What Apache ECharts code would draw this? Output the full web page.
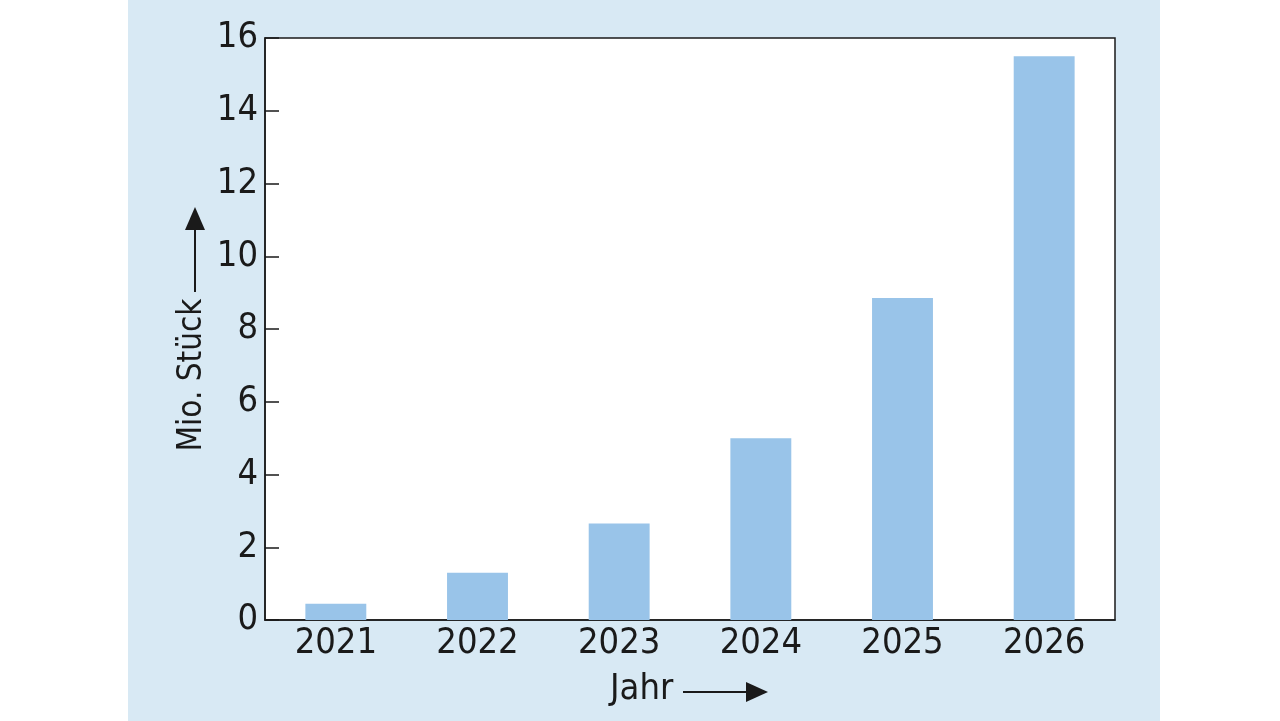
<!DOCTYPE html>
<html><head><meta charset="utf-8">
<script src="https://cdn.jsdelivr.net/npm/echarts@6/dist/echarts.min.js"></script>
<style>
html,body{margin:0;padding:0;background:#fff;width:1280px;height:721px;overflow:hidden;}
#c{position:absolute;left:128px;top:0;width:1032px;height:721px;}
</style></head><body>
<div id="c"></div>
<script>
const years = ['2021','2022','2023','2024','2025','2026'];
const values = [0.45, 1.3, 2.65, 5.0, 8.85, 15.5];
const yTitle = 'Mio. Stück';
const xTitle = 'Jahr';
const FONT = "'Liberation Sans Narrow', 'DejaVu Sans Condensed', sans-serif";
const ink = '#1a1a1a';
const chart = echarts.init(document.getElementById('c'));
chart.setOption({
  backgroundColor: '#d8e9f4',
  animation: false,
  textStyle: {fontFamily: FONT},
  grid: {left: 137, right: 45, top: 38, bottom: 101, show: true, backgroundColor: '#fff', borderColor: ink, borderWidth: 1.5},
  xAxis: {
    type: 'category', data: years,
    axisLine: {lineStyle: {color: ink, width: 1.5}},
    axisTick: {inside: true, length: 14, lineStyle: {color: ink, width: 1.5}},
    axisLabel: {color: ink, fontSize: 36, fontFamily: FONT, margin: 6}
  },
  yAxis: {
    type: 'value', min: 0, max: 16, interval: 2,
    splitLine: {show: false},
    axisLine: {show: true, lineStyle: {color: ink, width: 1.5}},
    axisTick: {show: true, inside: true, length: 14, lineStyle: {color: ink, width: 1.5}},
    axisLabel: {color: ink, fontSize: 36, fontFamily: FONT, margin: 7}
  },
  series: [{
    type: 'bar', data: values, barWidth: '43%',
    itemStyle: {color: '#99c4e9'}
  }],
  graphic: [
    {type: 'text', left: 482, top: 672, style: {text: xTitle, fontSize: 36, fontFamily: FONT, fill: ink}},
    {type: 'line', shape: {x1: 555, y1: 692, x2: 622, y2: 692}, style: {stroke: ink, lineWidth: 2}},
    {type: 'polygon', shape: {points: [[618, 682], [640, 692], [618, 702]]}, style: {fill: ink}},
    {type: 'text', x: 64, y: 375, rotation: Math.PI / 2, style: {text: yTitle, fontSize: 33, fontFamily: FONT, fill: ink, align: 'center', verticalAlign: 'middle'}},
    {type: 'line', shape: {x1: 67, y1: 292, x2: 67, y2: 226}, style: {stroke: ink, lineWidth: 2}},
    {type: 'polygon', shape: {points: [[57, 230], [67, 207], [77, 230]]}, style: {fill: ink}}
  ]
});
</script>
</body></html>
